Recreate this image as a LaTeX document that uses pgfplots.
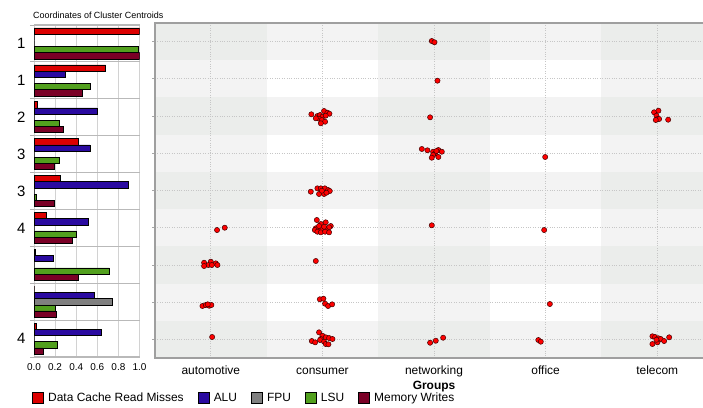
\documentclass[border=0pt]{standalone}
\usepackage{pgfplots}
\pgfplotsset{compat=1.18}
\usepackage{pgfplotstable}
\usepackage{fontspec}
\setmainfont{Liberation Sans}

\definecolor{cRed}{RGB}{220,0,0}
\definecolor{cBlue}{RGB}{42,10,160}
\definecolor{cGray}{RGB}{128,128,128}
\definecolor{cGreen}{RGB}{82,160,30}
\definecolor{cMaroon}{RGB}{122,0,38}
\definecolor{bgA}{RGB}{243,243,243}
\definecolor{bgB}{RGB}{235,237,235}

\pgfplotsset{sqlegend/.style={legend image code/.code={\draw[##1,draw=black,line width=0.5bp] (0bp,-5.5bp) rectangle (11bp,5.5bp);}}}

\pgfplotstableread{
g red blue gray green maroon
1 1.00 0 0 0.99 1.00
2 0.68 0.30 0 0.535 0.455
3 0.03 0.595 0 0.24 0.28
4 0.42 0.53 0 0.24 0.19
5 0.245 0.89 0 0.025 0.19
6 0.12 0.51 0 0.40 0.36
7 0.01 0.18 0 0.715 0.415
8 0 0.57 0.74 0.20 0.21
9 0.02 0.64 0 0.22 0.085
}\bars

\pgfplotstableread{
x y
1.980 0.984
2.004 1.018
2.031 2.050
0.901 2.953
1.015 2.864
1.045 2.910
1.063 2.937
0.955 2.999
0.979 2.972
1.000 3.017
1.030 2.990
0.970 3.071
0.995 3.106
1.024 3.152
0.986 3.195
0.941 3.060
1.965 3.034
3.972 2.899
4.011 2.856
3.993 2.991
4.002 3.079
4.017 3.079
4.098 3.098
3.987 3.106
1.891 3.885
1.941 3.920
1.992 3.958
2.010 4.001
2.039 3.912
2.070 3.958
1.992 4.046
1.980 4.119
2.039 4.100
2.022 3.939
2.996 4.100
0.896 5.032
0.955 4.942
0.986 4.942
1.022 4.942
1.051 4.987
1.066 5.014
0.970 5.094
1.015 5.094
1.036 5.059
0.995 5.006
0.056 6.062
0.125 6.000
0.950 5.793
1.030 5.855
0.986 5.900
1.075 5.954
1.060 5.989
0.941 6.016
0.970 6.043
1.000 6.043
1.030 6.062
0.932 6.062
0.955 6.107
0.986 6.124
1.024 6.107
1.060 6.124
1.015 5.973
0.970 5.954
1.980 5.935
2.987 6.062
-0.060 6.940
0.000 6.913
0.045 6.957
0.059 7.002
-0.022 7.002
-0.060 7.029
0.009 7.002
0.941 6.894
-0.075 8.103
-0.045 8.076
-0.015 8.095
0.005 8.076
-0.027 8.058
0.977 7.923
1.009 7.907
1.024 8.041
1.051 8.103
1.087 8.058
3.038 8.050
0.012 8.936
0.970 8.810
1.000 8.901
1.030 8.944
0.986 8.990
1.060 8.963
1.090 8.990
0.905 9.044
0.935 9.079
0.979 9.017
1.015 9.062
1.030 9.124
1.054 9.132
1.965 9.090
2.016 9.036
2.082 8.955
2.935 9.017
2.957 9.062
3.957 8.917
3.981 8.936
4.011 8.971
4.032 8.990
4.062 9.044
4.107 8.944
3.957 9.124
4.002 9.079
3.993 9.009
}\pts

\begin{document}
\begin{tikzpicture}[x=1bp,y=1bp]

% left panel: cluster centroid bars
\begin{axis}[
  at={(34bp,50bp)}, anchor=south west, scale only axis,
  width=105.5bp, height=332bp,
  xmin=0, xmax=1, ymin=0.5, ymax=9.5, y dir=reverse,
  axis line style={draw=none},
  xtick={0,0.2,0.4,0.6,0.8,1},
  xmajorgrids, major grid style={gray!35, line width=0.8bp},
  ytick={1,2,3,4,5,6,7,8,9}, yticklabels={1,1,2,3,3,4,,,4},
  minor ytick={0.5,1.5,2.5,3.5,4.5,5.5,6.5,7.5,8.5,9.5},
  yminorgrids, minor grid style={gray!55, line width=1.2bp},
  major tick length=0pt, minor tick length=4bp, tick align=outside,
  ytick pos=left, xtick pos=bottom, tick style={gray!60, line width=1bp},
  /pgf/number format/assume math mode=true,
  yticklabel style={font=\fontsize{15}{16}\selectfont, xshift=-5bp},
  xticklabel style={font=\fontsize{10}{12}\selectfont, yshift=-3bp, /pgf/number format/.cd, fixed, fixed zerofill, precision=1},
  bar width=0.168,
  legend columns=5,
  legend style={at={(axis description cs:-0.019,-0.1235)}, anchor=west, draw=none, fill=none,
    font=\fontsize{12}{14}\selectfont, inner sep=0pt, nodes={inner sep=0pt},
    /tikz/every odd column/.append style={column sep=4.5bp},
    /tikz/every even column/.append style={column sep=14bp}},
]
\addplot[xbar, sqlegend, fill=cRed, draw=black, line width=0.5bp, bar shift=-0.336] table[x=red,y=g]{\bars};
\addlegendentry{Data Cache Read Misses}
\addplot[xbar, sqlegend, fill=cBlue, draw=black, line width=0.5bp, bar shift=-0.168] table[x=blue,y=g]{\bars};
\addlegendentry{ALU}
\addplot[xbar, sqlegend, fill=cGray, draw=black, line width=0.5bp, bar shift=0] table[x=gray,y=g]{\bars};
\addlegendentry{FPU}
\addplot[xbar, sqlegend, fill=cGreen, draw=black, line width=0.5bp, bar shift=0.168] table[x=green,y=g]{\bars};
\addlegendentry{LSU}
\addplot[xbar, sqlegend, fill=cMaroon, draw=black, line width=0.5bp, bar shift=0.336] table[x=maroon,y=g]{\bars};
\addlegendentry{Memory Writes}
\end{axis}

% right panel: group scatter
\begin{axis}[
  at={(155bp,49bp)}, anchor=south west, scale only axis,
  width=558bp, height=335bp,
  xmin=-0.5, xmax=4.5, ymin=0.5, ymax=9.5, y dir=reverse,
  set layers,
  xtick={0,1,2,3,4}, xticklabels={automotive,consumer,networking,office,telecom},
  ytick={1,2,3,4,5,6,7,8,9}, yticklabels={},
  grid=major, grid style={dotted, gray!45, line width=0.7bp},
  xtick style={draw=none}, ytick style={gray!70, line width=0.8bp},
  ytick pos=left, tick align=outside, major tick length=3bp,
  axis line style={gray!75, line width=1.2bp},
  typeset ticklabels with strut,
  xticklabel style={font=\fontsize{12}{14}\selectfont},
  xlabel={Groups}, xlabel style={font=\fontsize{12}{14}\selectfont\bfseries, yshift=4bp},
]
\begin{pgfonlayer}{axis background}
\fill[bgA] (axis cs:-0.5,0.5) rectangle (axis cs:4.5,1.5);
\fill[bgA] (axis cs:-0.5,2.5) rectangle (axis cs:4.5,3.5);
\fill[bgA] (axis cs:-0.5,4.5) rectangle (axis cs:4.5,5.5);
\fill[bgA] (axis cs:-0.5,6.5) rectangle (axis cs:4.5,7.5);
\fill[bgA] (axis cs:-0.5,8.5) rectangle (axis cs:4.5,9.5);
\fill[bgA] (axis cs:-0.5,0.5) rectangle (axis cs:0.5,9.5);
\fill[bgA] (axis cs:1.5,0.5) rectangle (axis cs:2.5,9.5);
\fill[bgA] (axis cs:3.5,0.5) rectangle (axis cs:4.5,9.5);
\fill[bgB] (axis cs:-0.5,0.5) rectangle (axis cs:0.5,1.5);
\fill[bgB] (axis cs:-0.5,2.5) rectangle (axis cs:0.5,3.5);
\fill[bgB] (axis cs:-0.5,4.5) rectangle (axis cs:0.5,5.5);
\fill[bgB] (axis cs:-0.5,6.5) rectangle (axis cs:0.5,7.5);
\fill[bgB] (axis cs:-0.5,8.5) rectangle (axis cs:0.5,9.5);
\fill[bgB] (axis cs:1.5,0.5) rectangle (axis cs:2.5,1.5);
\fill[bgB] (axis cs:1.5,2.5) rectangle (axis cs:2.5,3.5);
\fill[bgB] (axis cs:1.5,4.5) rectangle (axis cs:2.5,5.5);
\fill[bgB] (axis cs:1.5,6.5) rectangle (axis cs:2.5,7.5);
\fill[bgB] (axis cs:1.5,8.5) rectangle (axis cs:2.5,9.5);
\fill[bgB] (axis cs:3.5,0.5) rectangle (axis cs:4.5,1.5);
\fill[bgB] (axis cs:3.5,2.5) rectangle (axis cs:4.5,3.5);
\fill[bgB] (axis cs:3.5,4.5) rectangle (axis cs:4.5,5.5);
\fill[bgB] (axis cs:3.5,6.5) rectangle (axis cs:4.5,7.5);
\fill[bgB] (axis cs:3.5,8.5) rectangle (axis cs:4.5,9.5);
\end{pgfonlayer}
\addplot[only marks, mark=*, mark size=2.6bp, mark options={fill=red, draw=black!75!red, line width=0.5bp}] table[x=x,y=y]{\pts};
\end{axis}

\node[anchor=west, font=\fontsize{9}{11}\selectfont, inner sep=0pt] at (33bp,392bp) {Coordinates of Cluster Centroids};
\pgfresetboundingbox
\useasboundingbox (0,0) rectangle (703,407);
\end{tikzpicture}
\end{document}
